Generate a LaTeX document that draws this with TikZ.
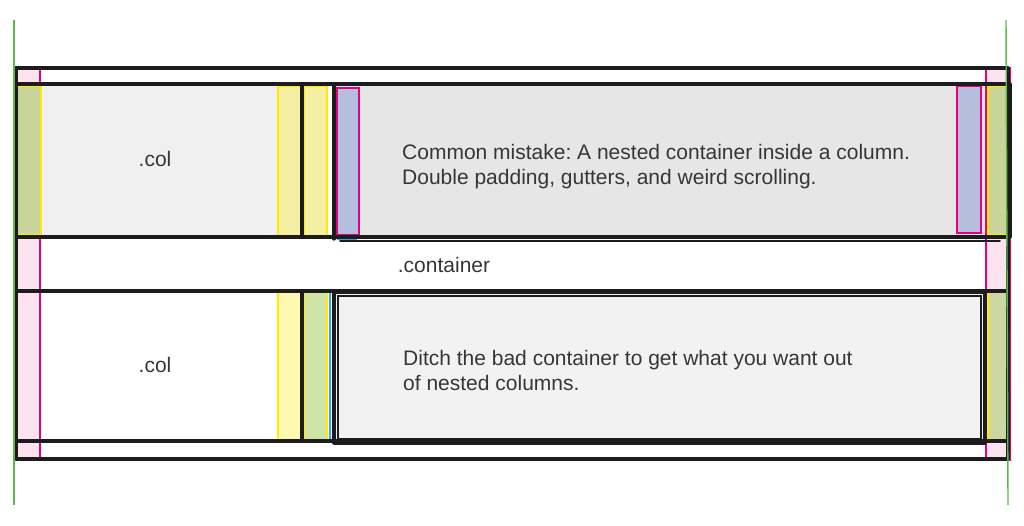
\documentclass[tikz,border=0pt]{standalone}
\usepackage{fontspec}
\setmainfont{Liberation Sans}
\frenchspacing
\definecolor{inkc}{HTML}{1C1C1C}
\definecolor{mag}{HTML}{E6007E}
\definecolor{pinkf}{HTML}{FCE3EF}
\definecolor{yel}{HTML}{FFEA00}
\definecolor{olive}{HTML}{C9D49B}
\definecolor{olivetwo}{HTML}{CDD7A3}
\definecolor{paley}{HTML}{F4EFA2}
\definecolor{paleytwo}{HTML}{FFF8B2}
\definecolor{greenf}{HTML}{D0E3A9}
\definecolor{bluef}{HTML}{B5BFDD}
\definecolor{cyanl}{HTML}{29A9E1}
\definecolor{gone}{HTML}{F0F0F0}
\definecolor{gtwo}{HTML}{E6E6E6}
\definecolor{gthree}{HTML}{F2F2F2}
\definecolor{grn}{HTML}{5CB947}
\definecolor{txt}{HTML}{363636}
\begin{document}
\begin{tikzpicture}[x=1pt,y=-1pt,
  ink/.style={draw=inkc, line width=3.2pt, line cap=round, line join=round},
  thinink/.style={draw=inkc, line width=1.8pt, line cap=round},
  pinkbar/.style={fill=pinkf, draw=mag, line width=2.2pt},
  ybar/.style={draw=yel, line width=2.4pt},
  bbar/.style={fill=bluef, draw=mag, line width=2.4pt},
  cyanmark/.style={draw=cyanl, line width=2pt},
  lbl/.style={text=txt, font=\fontsize{21}{25}\selectfont, inner sep=0pt, align=left},
  guide/.style={draw=grn, line width=1.4pt}
]
\useasboundingbox (0,0) rectangle (1024,525);
% background fills
\fill[gone] (16,84) rectangle (302,237);
\fill[gtwo] (334,86) rectangle (988,237);
\fill[gthree] (336,294) rectangle (983,440);
% padding bars of the outer container
\draw[pinkbar] (16,68) rectangle (40,459);
\draw[pinkbar] (986,68) rectangle (1010,460);
% row 1 bars
\draw[ybar, fill=olive] (17,86) rectangle (41,235);
\draw[ybar, fill=paley] (278,86) rectangle (301,236);
\draw[ybar, fill=paley] (304,86) rectangle (327,236);
\draw[bbar] (337,88) rectangle (359,235);
\draw[bbar] (957,86) rectangle (981,233);
\draw[ybar, fill=olive] (988,86) rectangle (1009,235);
\draw[cyanmark] (337,239) -- (357,239);
\draw[cyanmark] (958,237) -- (978,237);
% row 2 bars
\draw[ybar, fill=paleytwo] (278,292) rectangle (301,440);
\draw[ybar, fill=greenf] (304,292) rectangle (327,440);
\draw[cyanmark, line width=1.2pt] (330,292) -- (330,440);
\draw[ybar, fill=olivetwo] (988,292) rectangle (1009,440);
% black outlines
\draw[ink] (16,68) rectangle (1008,459);
\draw[ink] (16,84) rectangle (1010,237);
\draw[ink] (302,85) -- (302,237);
\draw[ink] (334,85) -- (334,239);
\draw[thinink] (340,241) -- (1000,241);
\draw[ink] (16,291) rectangle (1008,441);
\draw[ink] (302,291) -- (302,441);
\draw[ink] (334,292) rectangle (985,443);
\draw[thinink] (338,296) rectangle (981,439);
% green guides
\draw[guide] (14,20) -- (14,505);
\draw[guide] (1006,20) -- (1008,505);
% texts
\node[lbl, anchor=base] (col1) at (155,166) {.col};
\node[lbl, anchor=base] (col2) at (155,372) {.col};
\node[lbl, anchor=base] (cont) at (444,272) {.container};
\node[lbl, anchor=base west] (mistake) at (402,184) {Common mistake: A nested container inside a column.\\Double padding, gutters, and weird scrolling.};
\node[lbl, anchor=base west] (ditch) at (403,390) {Ditch the bad container to get what you want out\\of nested columns.};
\end{tikzpicture}
\end{document}
